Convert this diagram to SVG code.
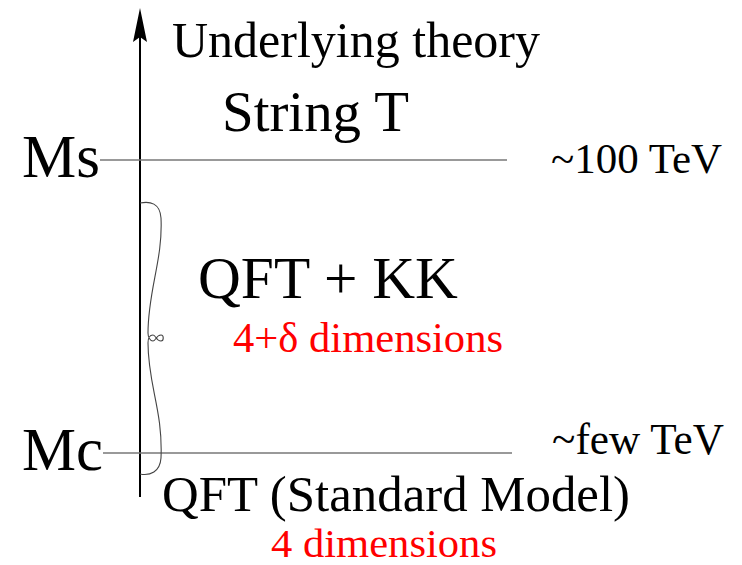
<svg xmlns="http://www.w3.org/2000/svg" width="742" height="565" viewBox="0 0 742 565">
<style>
.t{font-family:"Liberation Serif","Times New Roman",serif;fill:#000}
.r{fill:#ff0000}
.hl{stroke:#777;stroke-width:1.3;fill:none}
.br{stroke:#444;stroke-width:1.1;fill:none}
</style>
<rect width="742" height="565" fill="#fff"/>
<g id="connectors">
<line id="axis" x1="140" y1="497" x2="140" y2="30" stroke="#000" stroke-width="2"/>
<path id="arrowhead" d="M140 8 L147 42 L140 37 L133 42 Z" fill="#000"/>
<line id="ms-line" class="hl" x1="100" y1="160" x2="507" y2="160"/>
<line id="mc-line" class="hl" x1="103" y1="453" x2="512" y2="453"/>
<path id="brace" class="br" d="M140 203 C150 201 160 203 161 218 C163 260 148 290 148 333 C148 337 150 341 153 341 C156 341 156 335 161 335 C164 335 164 341 161 341 C156 341 156 335 153 335 C150 335 148 338 148 343 C148 385 163 410 161 458 C160 472 150 476 140 474"/>
</g>
<g id="title"><text class="t" x="172" y="57" font-size="50" textLength="368" lengthAdjust="spacingAndGlyphs">Underlying theory</text></g>
<g id="string"><text class="t" x="222" y="131" font-size="57" textLength="187" lengthAdjust="spacingAndGlyphs">String T</text></g>
<g id="ms"><text class="t" x="22" y="177" font-size="61" textLength="78" lengthAdjust="spacingAndGlyphs">Ms</text></g>
<g id="ms-val"><text class="t" x="551" y="173" font-size="43" textLength="171" lengthAdjust="spacingAndGlyphs">~100 TeV</text></g>
<g id="qftkk"><text class="t" x="198" y="298" font-size="59" textLength="260" lengthAdjust="spacingAndGlyphs">QFT + KK</text></g>
<g id="dims1"><text class="t r" x="233" y="352" font-size="43" textLength="270" lengthAdjust="spacingAndGlyphs">4+δ dimensions</text></g>
<g id="mc"><text class="t" x="22" y="470" font-size="61" textLength="81" lengthAdjust="spacingAndGlyphs">Mc</text></g>
<g id="mc-val"><text class="t" x="552" y="454" font-size="44" textLength="172" lengthAdjust="spacingAndGlyphs">~few TeV</text></g>
<g id="qftsm"><text class="t" x="162" y="511" font-size="51" textLength="468" lengthAdjust="spacingAndGlyphs">QFT (Standard Model)</text></g>
<g id="dims2"><text class="t r" x="271" y="557" font-size="41" textLength="226" lengthAdjust="spacingAndGlyphs">4 dimensions</text></g>
</svg>
